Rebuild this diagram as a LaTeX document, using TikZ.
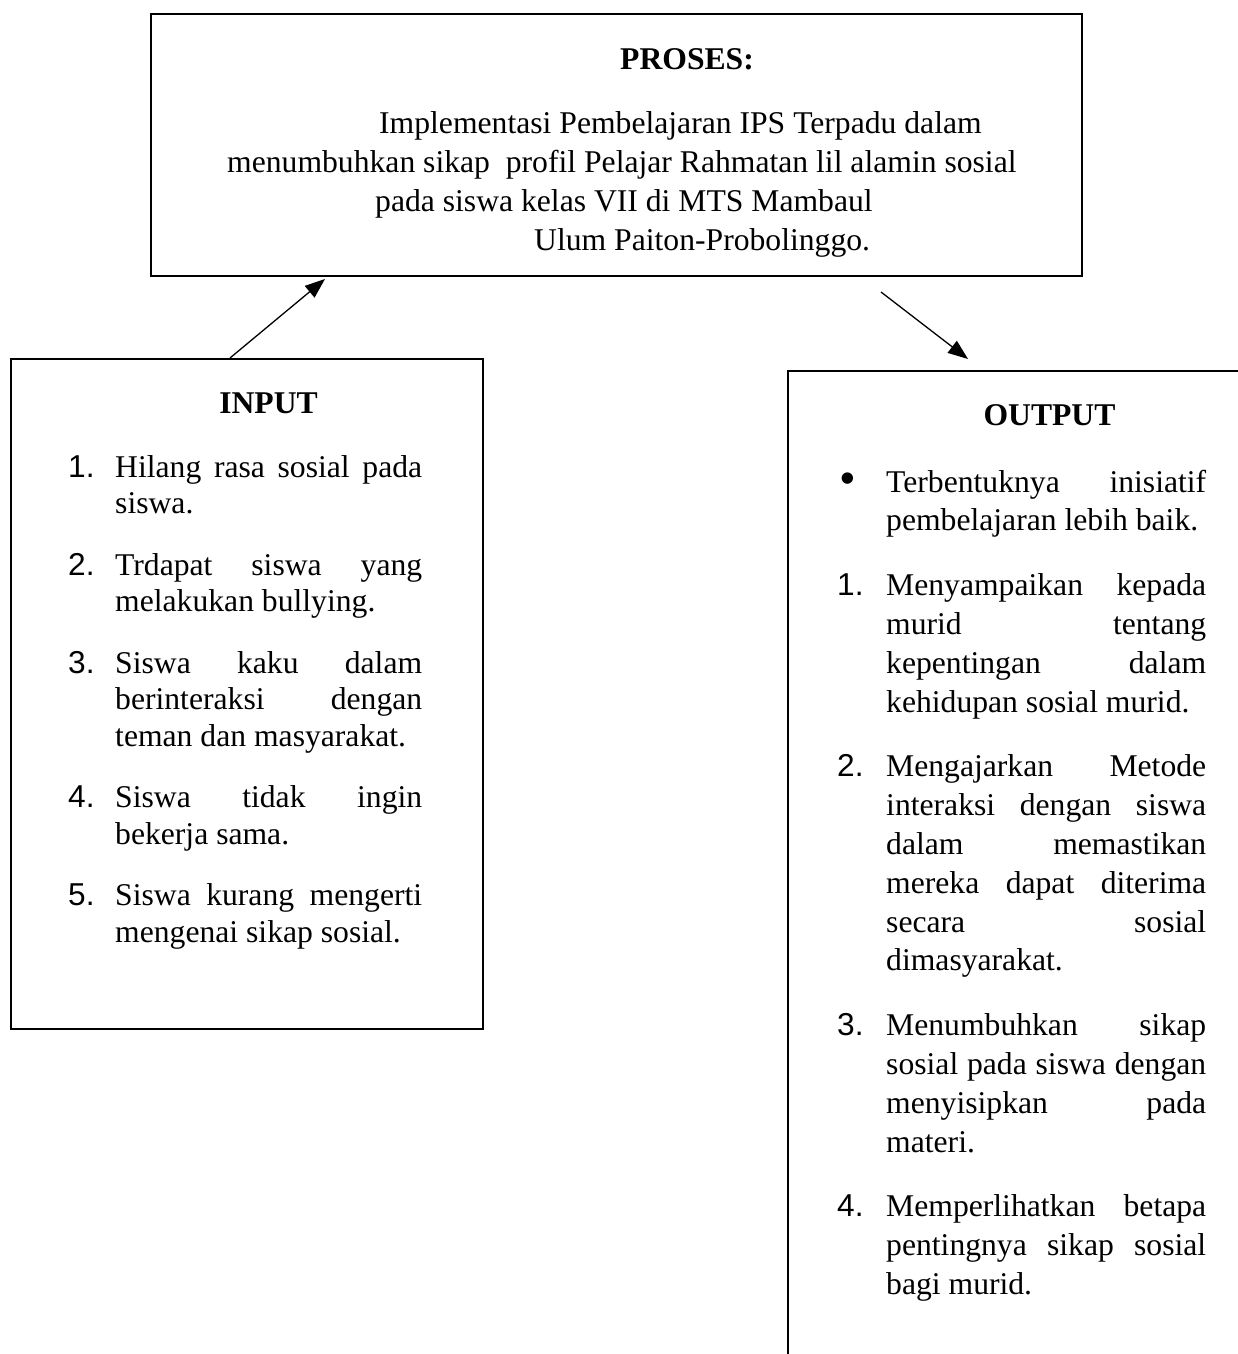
\documentclass[tikz,border=0pt]{standalone}
\usepackage{fontspec}
\setmainfont{Liberation Serif}
\newfontfamily\numfont{Liberation Sans}
\usetikzlibrary{arrows.meta}
\begin{document}
\begin{tikzpicture}[x=1pt,y=-1pt,
  box/.style={draw, line width=2pt, inner sep=0pt, anchor=north west},
  txt/.style={anchor=base west, inner sep=0pt, font=\fontsize{31.65}{38}\selectfont},
  num/.style={anchor=base west, inner sep=0pt, font=\numfont\fontsize{31.65}{38}\selectfont},
  ttl/.style={anchor=base, inner sep=0pt, font=\bfseries\fontsize{31.65}{38}\selectfont},
  arr/.style={line width=1.3pt, -{Triangle[length=20pt,width=15pt]}}]
\useasboundingbox (0,0) rectangle (1238,1354);
\newcommand{\jL}[1]{\makebox[307pt][s]{#1}}
\newcommand{\jR}[1]{\makebox[320pt][s]{#1}}

% boxes
\node[box, minimum width=931pt, minimum height=262pt] (proses) at (150,13) {};
\node[box, minimum width=472pt, minimum height=670pt] (input) at (10,358) {};
\node[box, minimum width=470pt, minimum height=1000pt] (output) at (787,370) {};

% PROSES text
\node[txt, font=\bfseries\fontsize{31.65}{38}\selectfont] (pt) at (620,70) {PROSES:};
\node[txt] (p1) at (379,133) {Implementasi Pembelajaran IPS Terpadu dalam};
\node[txt] (p2) at (227,172) {menumbuhkan sikap \ profil Pelajar Rahmatan lil alamin sosial};
\node[txt] (p3) at (375,211) {pada siswa kelas VII di MTS Mambaul};
\node[txt] (p4) at (534,250) {Ulum Paiton-Probolinggo.};

% INPUT text
\node[ttl] (it) at (268.5,413) {INPUT};
\node[num] (in1) at (68,477) {1.};
\node[txt] (i1a) at (115,477) {\jL{Hilang rasa sosial pada}};
\node[txt] (i1b) at (115,513.5) {siswa.};
\node[num] (in2) at (68,575) {2.};
\node[txt] (i2a) at (115,575) {\jL{Trdapat siswa yang}};
\node[txt] (i2b) at (115,611.5) {melakukan bullying.};
\node[num] (in3) at (68,673) {3.};
\node[txt] (i3a) at (115,673) {\jL{Siswa kaku dalam}};
\node[txt] (i3b) at (115,709.5) {\jL{berinteraksi dengan}};
\node[txt] (i3c) at (115,746) {teman dan masyarakat.};
\node[num] (in4) at (68,807.5) {4.};
\node[txt] (i4a) at (115,807.5) {\jL{Siswa tidak ingin}};
\node[txt] (i4b) at (115,844) {bekerja sama.};
\node[num] (in5) at (68,905.5) {5.};
\node[txt] (i5a) at (115,905.5) {\jL{Siswa kurang mengerti}};
\node[txt] (i5b) at (115,942) {mengenai sikap sosial.};

% OUTPUT text
\node[ttl] (ot) at (1049.5,425) {OUTPUT};
\node[anchor=center, inner sep=0pt, font=\numfont\fontsize{42}{42}\selectfont] (ob) at (848,483) {•};
\node[txt] (o0a) at (886,492) {\jR{Terbentuknya inisiatif}};
\node[txt] (o0b) at (886,530.8) {pembelajaran lebih baik.};
\node[num] (on1) at (837,595.6) {1.};
\node[txt] (o1a) at (886,595.6) {\jR{Menyampaikan kepada}};
\node[txt] (o1b) at (886,634.4) {\jR{murid tentang}};
\node[txt] (o1c) at (886,673.2) {\jR{kepentingan dalam}};
\node[txt] (o1d) at (886,712) {kehidupan sosial murid.};
\node[num] (on2) at (837,776.8) {2.};
\node[txt] (o2a) at (886,776.8) {\jR{Mengajarkan Metode}};
\node[txt] (o2b) at (886,815.6) {\jR{interaksi dengan siswa}};
\node[txt] (o2c) at (886,854.4) {\jR{dalam memastikan}};
\node[txt] (o2d) at (886,893.2) {\jR{mereka dapat diterima}};
\node[txt] (o2e) at (886,932) {\jR{secara sosial}};
\node[txt] (o2f) at (886,970.8) {dimasyarakat.};
\node[num] (on3) at (837,1035.6) {3.};
\node[txt] (o3a) at (886,1035.6) {\jR{Menumbuhkan sikap}};
\node[txt] (o3b) at (886,1074.4) {\jR{sosial pada siswa dengan}};
\node[txt] (o3c) at (886,1113.2) {\jR{menyisipkan pada}};
\node[txt] (o3d) at (886,1152) {materi.};
\node[num] (on4) at (837,1216.8) {4.};
\node[txt] (o4a) at (886,1216.8) {\jR{Memperlihatkan betapa}};
\node[txt] (o4b) at (886,1255.6) {\jR{pentingnya sikap sosial}};
\node[txt] (o4c) at (886,1294.4) {bagi murid.};

% arrows
\coordinate (a1s) at (230,358);
\coordinate (a1e) at (325,279);
\coordinate (a2s) at (881,292);
\coordinate (a2e) at (968,359);
\draw[arr] (a1s) -- (a1e);
\draw[arr] (a2s) -- (a2e);
\end{tikzpicture}
\end{document}
